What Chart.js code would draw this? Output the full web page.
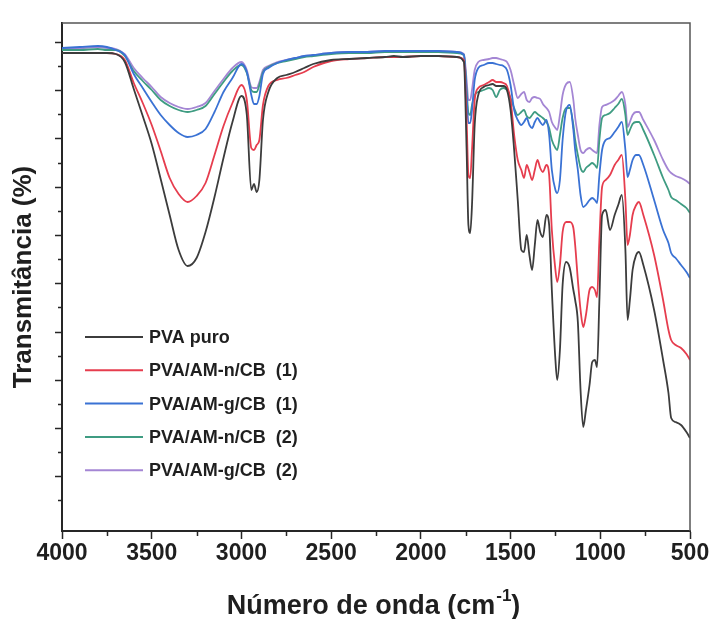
<!DOCTYPE html>
<html>
<head>
<meta charset="utf-8">
<script src="https://cdn.jsdelivr.net/npm/chart.js@4.4.0/dist/chart.umd.min.js"></script>
<style>
  body { margin: 0; background: #fff; }
  canvas { display: block; }
</style>
</head>
<body>
<canvas id="ftirChart" width="712" height="619"></canvas>
<script>
// FTIR spectra, transmittance in arbitrary units (axis has no numbers)
const wavenumbers = [
  4000, 3900, 3800, 3750, 3700, 3650, 3600, 3550, 3500, 3450,
  3400, 3350, 3300, 3250, 3200, 3150, 3100, 3050, 3000, 2970,
  2945, 2930, 2915, 2900, 2880, 2850, 2800, 2750, 2700, 2650,
  2600, 2500, 2400, 2300, 2200, 2150, 2100, 2000, 1900, 1800,
  1760, 1745, 1735, 1725, 1715, 1700, 1680, 1650, 1620, 1600,
  1580, 1560, 1540, 1520, 1500, 1480, 1460, 1440, 1425, 1410,
  1395, 1380, 1365, 1350, 1335, 1320, 1300, 1285, 1270, 1250,
  1240, 1225, 1210, 1190, 1170, 1150, 1140, 1125, 1110, 1095,
  1080, 1060, 1045, 1030, 1018, 1005, 990, 970, 946, 920,
  900, 880, 860, 848, 835, 820, 800, 785, 760, 700,
  650, 620, 605, 580, 550, 520, 500
];

const pvaPuro = [
  478, 478, 478, 478, 477, 469, 442, 415, 387, 352,
  316, 281, 265, 273, 299, 334, 373, 409, 435, 416,
  341, 347, 339, 351, 411, 439, 453, 456, 459, 463,
  467, 471, 472, 473, 474, 475, 474, 475, 475, 474,
  469, 381, 306, 298, 326, 406, 436, 444, 446, 447,
  445, 445, 445, 441, 421, 381, 331, 281, 279, 296,
  276, 261, 286, 311, 299, 294, 316, 306, 241, 171,
  151, 181, 246, 269, 263, 241, 231, 209, 141, 104,
  121, 146, 169, 171, 164, 231, 316, 321, 301, 316,
  326, 336, 281, 211, 231, 261, 276, 279, 266, 221,
  171, 138, 113, 109, 106, 99, 93
];

const pvaAmN1 = [
  478, 478, 478, 478, 477, 471, 448, 428, 406, 380,
  353, 337, 329, 335, 348, 376, 405, 428, 446, 431,
  383, 381, 386, 391, 426, 445, 451, 453, 456, 459,
  464, 470, 472, 473, 474, 474, 474, 475, 475, 474,
  471, 411, 356, 353, 381, 431, 443, 446, 449, 451,
  449, 449, 448, 445, 431, 396, 371, 361, 353, 366,
  359, 351, 361, 371, 363, 359, 366, 356, 301, 261,
  249, 266, 299, 309, 309, 303, 286, 251, 221, 204,
  216, 241, 244, 241, 234, 291, 344, 351, 356, 366,
  371, 376, 331, 286, 296, 316, 326, 329, 316, 276,
  231, 201, 191, 186, 183, 177, 171
];

const pvaAmG1 = [
  483, 484, 485, 484, 481, 476, 457, 443, 429, 416,
  406, 398, 394, 396, 402, 419, 439, 453, 467, 459,
  436, 427, 427, 435, 457, 463, 468, 471, 473, 475,
  476, 478, 479, 479, 480, 480, 480, 480, 480, 479,
  476, 436, 408, 408, 421, 451, 463, 466, 468, 468,
  467, 466, 465, 461, 446, 421, 411, 406, 409, 413,
  406, 403, 409, 413, 409, 406, 411, 396, 361, 341,
  338, 351, 391, 421, 426, 401, 381, 361, 336, 324,
  326, 331, 333, 331, 328, 356, 381, 391, 393, 399,
  404, 409, 381, 354, 361, 371, 376, 376, 366, 331,
  301, 288, 278, 273, 266, 259, 253
];

const pvaAmN2 = [
  481, 481, 482, 481, 481, 475, 460, 450, 441, 431,
  425, 421, 419, 421, 425, 437, 449, 460, 466, 458,
  441, 439, 439, 446, 459, 464, 468, 470, 472, 474,
  475, 477, 478, 478, 479, 479, 479, 479, 479, 478,
  476, 441, 418, 416, 426, 436, 439, 441, 443, 441,
  434, 441, 443, 441, 433, 423, 416, 419, 421, 415,
  413, 416, 419, 417, 415, 413, 409, 403, 391, 383,
  381, 396, 413, 423, 423, 406, 391, 376, 363, 359,
  363, 366, 368, 366, 363, 391, 413, 416, 418, 423,
  427, 432, 416, 396, 401, 407, 409, 409, 401, 376,
  353, 341, 334, 331, 327, 323, 318
];

const pvaAmG2 = [
  483, 483, 484, 483, 482, 477, 463, 453, 444, 434,
  428, 424, 422, 424, 428, 440, 452, 463, 469, 461,
  444, 443, 443, 449, 461, 465, 469, 471, 473, 475,
  476, 478, 479, 479, 480, 480, 480, 480, 480, 479,
  477, 451, 431, 431, 441, 461, 469, 471, 472, 473,
  473, 472, 471, 469, 461, 446, 433, 437, 439, 431,
  429, 433, 434, 433, 432, 427, 423, 419, 409, 403,
  401, 416, 436, 447, 449, 431, 413, 396, 381, 378,
  381, 383, 381, 379, 378, 406, 424, 426, 428, 431,
  435, 439, 426, 404, 409, 416, 419, 419, 411, 391,
  371, 361, 358, 355, 353, 350, 347
];

const seriesLabels = ["PVA puro", "PVA/AM-n/CB  (1)", "PVA/AM-g/CB  (1)", "PVA/AM-n/CB  (2)", "PVA/AM-g/CB  (2)"];
const seriesValues = [pvaPuro, pvaAmN1, pvaAmG1, pvaAmN2, pvaAmG2];
const seriesColors = ["#3c3c3c", "#e63d4e", "#3a72d4", "#3f9c82", "#a486d4"];

const xTickValues = [4000, 3500, 3000, 2500, 2000, 1500, 1000, 500];
const xMinorTicks = [3750, 3250, 2750, 2250, 1750, 1250, 750];
const yMajorTicks = [489, 441, 393, 344, 296, 248, 199, 151, 103, 55];
const yMinorTicks = [465, 417, 368, 320, 272, 224, 175, 127, 79, 31];

const AXIS_COLOR = "#262626";
const FONT = '"Liberation Sans", Arial, sans-serif';

const decor = {
  id: "decor",
  afterDraw(chart) {
    const ctx = chart.ctx;
    const area = chart.chartArea;
    const xs = chart.scales.x;
    const ys = chart.scales.y;
    ctx.save();

    // top and right frame
    ctx.strokeStyle = "#555";
    ctx.lineWidth = 1.5;
    ctx.beginPath();
    ctx.moveTo(area.left, area.top);
    ctx.lineTo(area.right, area.top);
    ctx.lineTo(area.right, area.bottom);
    ctx.stroke();

    // minor ticks
    ctx.strokeStyle = AXIS_COLOR;
    ctx.lineWidth = 1.5;
    ctx.beginPath();
    xMinorTicks.forEach(v => {
      const px = Math.round(xs.getPixelForValue(v)) + 0.5;
      ctx.moveTo(px, area.bottom);
      ctx.lineTo(px, area.bottom + 5);
    });
    yMinorTicks.forEach(v => {
      const py = Math.round(ys.getPixelForValue(v)) + 0.5;
      ctx.moveTo(area.left, py);
      ctx.lineTo(area.left - 4, py);
    });
    ctx.stroke();

    // x axis title with superscript
    const big = "bold 27px " + FONT;
    const small = "bold 17px " + FONT;
    const main = "Número de onda (cm";
    const sup = "-1";
    const close = ")";
    ctx.fillStyle = "#1f1f1f";
    ctx.textBaseline = "alphabetic";
    ctx.textAlign = "left";
    ctx.font = big;
    const wMain = ctx.measureText(main).width;
    const wClose = ctx.measureText(close).width;
    ctx.font = small;
    const wSup = ctx.measureText(sup).width;
    const total = wMain + wSup + wClose;
    let tx = (area.left + area.right) / 2 - total / 2 - 3;
    const ty = 614;
    ctx.font = big;
    ctx.fillText(main, tx, ty);
    ctx.font = small;
    ctx.fillText(sup, tx + wMain + 1, ty - 13);
    ctx.font = big;
    ctx.fillText(close, tx + wMain + wSup + 1, ty);

    // legend inside the plot
    ctx.font = "bold 18px " + FONT;
    ctx.textBaseline = "middle";
    chart.data.datasets.forEach((ds, i) => {
      const y = area.top + 314 + i * 33.3;
      ctx.strokeStyle = ds.borderColor;
      ctx.lineWidth = 2;
      ctx.beginPath();
      ctx.moveTo(area.left + 23, y);
      ctx.lineTo(area.left + 81, y);
      ctx.stroke();
      ctx.fillStyle = "#1f1f1f";
      ctx.fillText(ds.label, area.left + 87, y + 1);
    });
    ctx.restore();
  }
};

const datasets = seriesLabels.map((label, i) => ({
  label: label,
  data: wavenumbers.map((w, j) => ({ x: w, y: seriesValues[i][j] })),
  borderColor: seriesColors[i],
  borderWidth: 1.8,
  pointRadius: 0,
  fill: false,
  cubicInterpolationMode: "monotone"
}));

new Chart(document.getElementById("ftirChart"), {
  type: "line",
  data: { datasets: datasets },
  options: {
    responsive: false,
    animation: false,
    devicePixelRatio: 1,
    layout: { padding: { top: 23, right: 22, left: 0, bottom: 0 } },
    plugins: { legend: { display: false }, tooltip: { enabled: false } },
    scales: {
      x: {
        type: "linear",
        reverse: true,
        min: 500,
        max: 4000,
        afterBuildTicks: s => { s.ticks = xTickValues.map(v => ({ value: v })); },
        afterFit: s => { s.height = 88; },
        ticks: {
          autoSkip: false,
          maxRotation: 0,
          padding: 1,
          color: "#1f1f1f",
          font: { family: FONT, size: 23, weight: "bold" },
          callback: v => String(v)
        },
        grid: { drawOnChartArea: false, tickLength: 8, tickColor: AXIS_COLOR, tickWidth: 1.5 },
        border: { color: AXIS_COLOR, width: 2 }
      },
      y: {
        min: 0,
        max: 508,
        afterBuildTicks: s => { s.ticks = yMajorTicks.map(v => ({ value: v })); },
        afterFit: s => { s.width = 62; },
        ticks: { display: false },
        grid: { drawOnChartArea: false, tickLength: 7, tickColor: AXIS_COLOR, tickWidth: 1.5 },
        border: { color: AXIS_COLOR, width: 2 },
        title: {
          display: true,
          text: "Transmitância (%)",
          color: "#1f1f1f",
          font: { family: FONT, size: 26, weight: "bold" },
          padding: { top: 8, bottom: 0 }
        }
      }
    }
  },
  plugins: [decor]
});
</script>
</body>
</html>
